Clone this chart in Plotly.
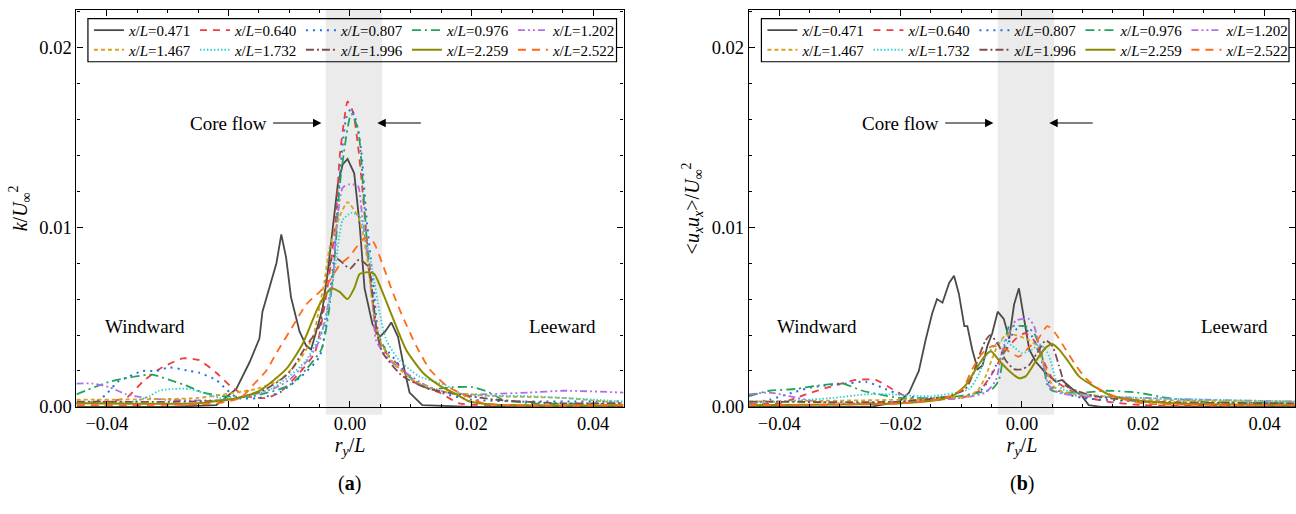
import plotly.graph_objects as go

# ---------------- data (panel a: k/U^2) ----------------
labels = ["0.471", "0.640", "0.807", "0.976", "1.202", "1.467", "1.732", "1.996", "2.259", "2.522"]

a_x_0471 = [-0.045, -0.030, -0.022, -0.0187, -0.0165, -0.0149, -0.0144, -0.013, -0.0121, -0.0113, -0.0105, -0.0097, -0.0083, -0.0072, -0.0064, -0.0053, -0.0045, -0.0037, -0.0028, -0.002, -0.0012, -0.0004, 0.0007, 0.0016, 0.0024, 0.0037, 0.0049, 0.0058, 0.0068, 0.0079, 0.0090, 0.0098, 0.0119, 0.020, 0.045]
a_y_0471 = [0.0, 0.0, 0.0001, 0.0010, 0.0025, 0.0038, 0.0053, 0.0069, 0.0080, 0.0096, 0.0083, 0.0061, 0.0042, 0.0034, 0.0032, 0.0045, 0.0055, 0.0074, 0.0101, 0.0124, 0.0135, 0.0138, 0.0130, 0.0101, 0.0066, 0.0046, 0.0039, 0.0042, 0.0047, 0.0039, 0.0020, 0.0008, 0.0001, 0.0, 0.0]

a_x_0640 = [-0.045, -0.040, -0.0368, -0.0341, -0.0314, -0.0275, -0.0248, -0.022, -0.0198, -0.0171, -0.0138, -0.0116, -0.0083, -0.0058, -0.0042, -0.0031, -0.0023, -0.0017, -0.0009, -0.0004, 0.0005, 0.0013, 0.002, 0.0027, 0.0035, 0.0043, 0.0054, 0.0081, 0.0109, 0.0147, 0.018, 0.025, 0.045]
a_y_0640 = [0.0002, 0.0003, 0.0005, 0.0014, 0.0021, 0.0027, 0.0026, 0.0019, 0.0012, 0.0006, 0.0005, 0.0008, 0.0019, 0.0030, 0.0056, 0.0081, 0.0106, 0.0139, 0.0161, 0.0170, 0.0164, 0.0146, 0.0123, 0.0095, 0.0070, 0.0041, 0.0032, 0.0023, 0.0013, 0.0008, 0.0002, 0.0001, 0.0001]

a_x_0807 = [-0.045, -0.0418, -0.0401, -0.0382, -0.0363, -0.0341, -0.0319, -0.0297, -0.0264, -0.0248, -0.022, -0.0204, -0.0185, -0.015, -0.0116, -0.008, -0.005, -0.0037, -0.0026, -0.0017, -0.0006, 0.0002, 0.001, 0.0018, 0.0027, 0.0038, 0.0049, 0.007, 0.0103, 0.015, 0.02, 0.045]
a_y_0807 = [0.0002, 0.0003, 0.0007, 0.0014, 0.0017, 0.0020, 0.0020, 0.0022, 0.0020, 0.0019, 0.0015, 0.0010, 0.0005, 0.0005, 0.0008, 0.0017, 0.0028, 0.0052, 0.0084, 0.0128, 0.0161, 0.0166, 0.0159, 0.0144, 0.0106, 0.0070, 0.0037, 0.0028, 0.0015, 0.0008, 0.0004, 0.0003]

a_x_0976 = [-0.045, -0.0396, -0.0352, -0.0325, -0.0297, -0.027, -0.0242, -0.0209, -0.016, -0.010, -0.0072, -0.0047, -0.0034, -0.0023, -0.0017, 0.0002, 0.0013, 0.0024, 0.0032, 0.0046, 0.007, 0.0109, 0.0131, 0.0169, 0.0202, 0.023, 0.0251, 0.030, 0.045]
a_y_0976 = [0.0007, 0.0014, 0.0017, 0.0018, 0.0015, 0.0012, 0.0008, 0.0006, 0.0006, 0.0012, 0.0021, 0.0032, 0.0055, 0.0092, 0.0123, 0.0163, 0.0155, 0.0110, 0.0074, 0.0041, 0.0025, 0.0014, 0.0010, 0.0011, 0.0011, 0.0008, 0.0004, 0.0002, 0.0002]

a_x_1202 = [-0.045, -0.0423, -0.0396, -0.0368, -0.0335, -0.0303, -0.020, -0.0127, -0.010, -0.0072, -0.005, -0.0039, -0.0028, -0.0023, -0.0012, 0.0, 0.0013, 0.002, 0.0029, 0.0038, 0.0043, 0.0065, 0.0092, 0.0125, 0.016, 0.0202, 0.0295, 0.035, 0.045]
a_y_1202 = [0.0013, 0.0013, 0.0011, 0.0007, 0.0005, 0.0004, 0.0004, 0.0010, 0.0015, 0.0025, 0.0037, 0.0052, 0.0070, 0.0097, 0.0122, 0.0124, 0.0123, 0.0106, 0.0083, 0.0055, 0.0037, 0.0026, 0.0019, 0.0012, 0.0008, 0.0007, 0.0008, 0.0009, 0.0008]

a_x_1467 = [-0.045, -0.025, -0.0171, -0.0154, -0.0116, -0.0083, -0.0061, -0.005, -0.0042, -0.0034, -0.0026, -0.0017, -0.0004, 0.0013, 0.0021, 0.0029, 0.0038, 0.0049, 0.007, 0.0103, 0.0147, 0.024, 0.035, 0.045]
a_y_1467 = [0.0004, 0.0005, 0.0009, 0.0010, 0.0015, 0.0026, 0.0039, 0.0056, 0.0070, 0.0088, 0.0097, 0.0106, 0.0114, 0.0106, 0.0097, 0.0081, 0.0055, 0.0037, 0.0025, 0.0015, 0.0009, 0.0006, 0.0005, 0.0002]

a_x_1732 = [-0.045, -0.0358, -0.033, -0.0314, -0.0292, -0.0264, -0.0243, -0.0215, -0.018, -0.013, -0.010, -0.0072, -0.0045, -0.0034, -0.0023, -0.0012, 0.0002, 0.0016, 0.0027, 0.0038, 0.0049, 0.006, 0.0081, 0.0114, 0.0158, 0.0186, 0.0295, 0.0405, 0.045]
a_y_1732 = [0.0002, 0.0003, 0.0006, 0.0009, 0.0010, 0.0010, 0.0008, 0.0005, 0.0005, 0.0010, 0.0017, 0.0026, 0.0043, 0.0059, 0.0081, 0.0104, 0.0108, 0.0106, 0.0092, 0.0074, 0.0052, 0.0037, 0.0026, 0.0017, 0.0012, 0.0007, 0.0006, 0.0004, 0.0003]

a_x_1996 = [-0.045, -0.020, -0.0138, -0.010, -0.0072, -0.005, -0.0039, -0.0028, -0.0015, 0.0, 0.0015, 0.003, 0.0038, 0.0045, 0.0054, 0.0087, 0.0131, 0.024, 0.035, 0.045]
a_y_1996 = [0.0003, 0.0004, 0.0010, 0.0019, 0.0034, 0.0045, 0.0070, 0.0084, 0.0081, 0.0077, 0.0082, 0.0078, 0.0060, 0.0040, 0.0030, 0.0017, 0.0010, 0.0004, 0.0002, 0.0002]

a_x_2259 = [-0.045, -0.025, -0.0204, -0.0182, -0.0149, -0.0105, -0.0078, -0.0053, -0.0039, -0.0031, -0.0017, -0.0004, 0.0007, 0.0016, 0.0029, 0.004, 0.0051, 0.007, 0.0092, 0.012, 0.0147, 0.0175, 0.0197, 0.025, 0.045]
a_y_2259 = [0.0002, 0.0002, 0.0004, 0.0005, 0.0009, 0.0021, 0.0035, 0.0055, 0.0063, 0.0066, 0.0064, 0.0060, 0.0066, 0.0074, 0.0075, 0.0074, 0.0066, 0.0050, 0.0032, 0.0019, 0.0012, 0.0007, 0.0003, 0.0001, 0.0001]

a_x_2522 = [-0.045, -0.022, -0.018, -0.016, -0.0138, -0.0121, -0.0094, -0.0072, -0.005, -0.0034, -0.0017, 0.0, 0.0013, 0.0024, 0.0038, 0.0054, 0.007, 0.0087, 0.0109, 0.0131, 0.0158, 0.0186, 0.022, 0.045]
a_y_2522 = [0.0001, 0.0002, 0.0005, 0.0012, 0.0020, 0.0030, 0.0045, 0.0057, 0.0064, 0.0070, 0.0079, 0.0084, 0.0090, 0.0094, 0.0092, 0.0079, 0.0064, 0.0050, 0.0034, 0.0021, 0.0012, 0.0007, 0.0002, 0.0001]

# ---------------- data (panel b: <uxux>/U^2) ----------------
b_x_0471 = [-0.045, -0.025, -0.0202, -0.0186, -0.017, -0.0159, -0.0148, -0.014, -0.0131, -0.012, -0.0112, -0.0104, -0.0095, -0.009, -0.0082, -0.0073, -0.0065, -0.0057, -0.0049, -0.004, -0.003, -0.0021, -0.0013, -0.0005, 0.0003, 0.0012, 0.0023, 0.0039, 0.0056, 0.0066, 0.0083, 0.0099, 0.011, 0.013, 0.045]
b_y_0471 = [0.0, 0.0, 0.0003, 0.0008, 0.0020, 0.0037, 0.0052, 0.0060, 0.0058, 0.0069, 0.0073, 0.0063, 0.0045, 0.0045, 0.0032, 0.0021, 0.0023, 0.0034, 0.0041, 0.0053, 0.0049, 0.0038, 0.0057, 0.0066, 0.0050, 0.0032, 0.0025, 0.0019, 0.0014, 0.0015, 0.0010, 0.0006, 0.0001, 0.0, 0.0]

b_x_0640 = [-0.045, -0.040, -0.0356, -0.0318, -0.0274, -0.0241, -0.0214, -0.018, -0.014, -0.010, -0.007, -0.005, -0.003, -0.001, 0.0005, 0.002, 0.0035, 0.005, 0.007, 0.010, 0.014, 0.020, 0.045]
b_y_0640 = [0.0002, 0.0002, 0.0007, 0.0011, 0.0015, 0.0015, 0.0010, 0.0004, 0.0004, 0.0005, 0.0009, 0.0018, 0.0030, 0.0038, 0.0041, 0.0037, 0.0026, 0.0016, 0.0011, 0.0006, 0.0003, 0.0001, 0.0001]

b_x_0807 = [-0.045, -0.0416, -0.0378, -0.0345, -0.029, -0.0257, -0.0225, -0.0202, -0.017, -0.012, -0.0085, -0.0065, -0.0043, -0.0027, -0.0013, 0.0, 0.0017, 0.0033, 0.0047, 0.0066, 0.010, 0.020, 0.045]
b_y_0807 = [0.0002, 0.0004, 0.0008, 0.0011, 0.0013, 0.0014, 0.0010, 0.0007, 0.0005, 0.0005, 0.0007, 0.0010, 0.0023, 0.0032, 0.0042, 0.0045, 0.0039, 0.0025, 0.0012, 0.0008, 0.0005, 0.0003, 0.0002]

b_x_0976 = [-0.045, -0.0416, -0.0373, -0.0334, -0.0296, -0.0263, -0.0235, -0.0202, -0.015, -0.0104, -0.007, -0.0049, -0.0038, -0.0021, -0.001, 0.0006, 0.002, 0.0031, 0.0042, 0.005, 0.0067, 0.010, 0.014, 0.019, 0.024, 0.030, 0.045]
b_y_0976 = [0.0006, 0.0009, 0.0010, 0.0012, 0.0013, 0.0009, 0.0007, 0.0005, 0.0005, 0.0006, 0.0008, 0.0010, 0.0015, 0.0045, 0.0045, 0.0045, 0.0041, 0.0032, 0.0012, 0.0009, 0.0008, 0.0008, 0.0009, 0.0008, 0.0005, 0.0003, 0.0002]

b_x_1202 = [-0.045, -0.0416, -0.0384, -0.034, -0.030, -0.020, -0.010, -0.006, -0.0043, -0.0032, -0.0021, -0.001, 0.0011, 0.002, 0.0028, 0.0036, 0.0044, 0.006, 0.010, 0.020, 0.030, 0.045]
b_y_1202 = [0.0007, 0.0008, 0.0006, 0.0003, 0.0002, 0.0003, 0.0005, 0.0008, 0.0015, 0.0032, 0.0041, 0.0048, 0.0049, 0.0045, 0.0034, 0.0023, 0.0012, 0.0008, 0.0006, 0.0005, 0.0004, 0.0003]

b_x_1467 = [-0.045, -0.020, -0.012, -0.0087, -0.0071, -0.006, -0.0043, -0.0027, -0.001, 0.0012, 0.0025, 0.0033, 0.0042, 0.005, 0.007, 0.010, 0.020, 0.045]
b_y_1467 = [0.0003, 0.0004, 0.0005, 0.0006, 0.0010, 0.0017, 0.0032, 0.0040, 0.0040, 0.0037, 0.0034, 0.0026, 0.0019, 0.0012, 0.0008, 0.0007, 0.0004, 0.0003]

b_x_1732 = [-0.045, -0.0312, -0.0257, -0.0218, -0.015, -0.0087, -0.007, -0.006, -0.0043, -0.0032, -0.0016, 0.0, 0.0017, 0.0028, 0.0039, 0.0047, 0.0056, 0.0066, 0.010, 0.020, 0.045]
b_y_1732 = [0.0002, 0.0005, 0.0007, 0.0007, 0.0006, 0.0010, 0.0019, 0.0028, 0.0035, 0.0037, 0.0034, 0.0030, 0.0032, 0.0035, 0.0032, 0.0026, 0.0015, 0.0010, 0.0007, 0.0005, 0.0003]

b_x_1996 = [-0.045, -0.020, -0.012, -0.0093, -0.0082, -0.0071, -0.006, -0.0052, -0.0038, -0.0027, -0.0013, 0.0, 0.0011, 0.0025, 0.0039, 0.005, 0.0061, 0.0072, 0.009, 0.012, 0.020, 0.045]
b_y_1996 = [0.0003, 0.0003, 0.0006, 0.0010, 0.0017, 0.0028, 0.0037, 0.0040, 0.0034, 0.0026, 0.0021, 0.0021, 0.0023, 0.0030, 0.0037, 0.0034, 0.0023, 0.0012, 0.0009, 0.0006, 0.0003, 0.0002]

b_x_2259 = [-0.045, -0.020, -0.0137, -0.0115, -0.0093, -0.0076, -0.0062, -0.0051, -0.0038, -0.0021, -0.0005, 0.0006, 0.0022, 0.0039, 0.005, 0.0061, 0.0077, 0.0094, 0.0116, 0.0149, 0.0182, 0.025, 0.045]
b_y_2259 = [0.0001, 0.0002, 0.0004, 0.0006, 0.0012, 0.0021, 0.0028, 0.0031, 0.0026, 0.0020, 0.0016, 0.0017, 0.0025, 0.0033, 0.0035, 0.0032, 0.0025, 0.0017, 0.0012, 0.0006, 0.0004, 0.0002, 0.0001]

b_x_2522 = [-0.045, -0.020, -0.0126, -0.0098, -0.0082, -0.0065, -0.0048, -0.0027, -0.0005, 0.0011, 0.0025, 0.0042, 0.0055, 0.0072, 0.0089, 0.0105, 0.0127, 0.016, 0.020, 0.045]
b_y_2522 = [0.0001, 0.0002, 0.0005, 0.0010, 0.0021, 0.0030, 0.0034, 0.0032, 0.0028, 0.0033, 0.0037, 0.0045, 0.0041, 0.0032, 0.0023, 0.0016, 0.0010, 0.0005, 0.0002, 0.0001]

core_band = [-0.004, 0.0053]
core_arrow_y = 0.0158
arrow_left = [-0.0129, -0.0047]   # tail, head
arrow_right = [0.0119, 0.0045]

panel_a = [(a_x_0471, a_y_0471), (a_x_0640, a_y_0640), (a_x_0807, a_y_0807), (a_x_0976, a_y_0976),
           (a_x_1202, a_y_1202), (a_x_1467, a_y_1467), (a_x_1732, a_y_1732), (a_x_1996, a_y_1996),
           (a_x_2259, a_y_2259), (a_x_2522, a_y_2522)]
panel_b = [(b_x_0471, b_y_0471), (b_x_0640, b_y_0640), (b_x_0807, b_y_0807), (b_x_0976, b_y_0976),
           (b_x_1202, b_y_1202), (b_x_1467, b_y_1467), (b_x_1732, b_y_1732), (b_x_1996, b_y_1996),
           (b_x_2259, b_y_2259), (b_x_2522, b_y_2522)]

# ---------------- styles ----------------
colors = ["#4a4a4a", "#f23c3c", "#1e6fe6", "#22a35a", "#b26ee8",
          "#d9a21b", "#2ed0d0", "#7d4c4c", "#8c8c00", "#ff6a14"]
dashes = ["solid", "7px,6px", "2px,5px", "9px,4px,2px,4px", "7px,3px,2px,3px,2px,3px",
          "4px,3px", "1.5px,2px", "8px,3px,2px,3px", "solid", "8px,6px"]
widths = [1.8, 1.8, 2.0, 1.8, 1.8, 1.8, 1.8, 1.8, 2.0, 1.8]
shapes_line = ["linear"] + ["spline"] * 9

FONT = "Liberation Serif"
W, H = 1296, 514

fig = go.Figure()

def add_panel(data, xa, ya, leg1, leg2):
    for i, (xs, ys) in enumerate(data):
        fig.add_trace(go.Scatter(
            x=xs, y=ys, mode="lines", xaxis=xa, yaxis=ya,
            name="<i>x</i>/<i>L</i>=" + labels[i],
            legend=leg1 if i < 5 else leg2,
            line=dict(color=colors[i], dash=dashes[i], width=widths[i],
                      shape=shapes_line[i], smoothing=0.6),
            showlegend=True))

add_panel(panel_a, "x", "y", "legend", "legend2")
add_panel(panel_b, "x2", "y2", "legend3", "legend4")

def px2paper_x(p):
    return p / W

def px2paper_y(p):
    return (H - p) / H

dom_y = [px2paper_y(415), px2paper_y(10)]
dom_xa = [px2paper_x(76.5), px2paper_x(624)]
dom_xb = [px2paper_x(749.5), 1.0]

axis_common = dict(
    showline=True, linecolor="black", linewidth=1.2, mirror="ticks",
    ticks="inside", ticklen=6, tickwidth=1.2, tickcolor="black",
    showgrid=False, zeroline=False,
    tickfont=dict(family=FONT, size=18.5, color="black"),
    tickformat=".2f",
)
xaxis_common = dict(axis_common, range=[-0.045, 0.045], tick0=-0.04, dtick=0.02,
                    minor=dict(dtick=0.005, tick0=0, ticks="inside", ticklen=3, tickwidth=1.0, tickcolor="black"),
                    title=dict(text="<i>r</i><sub><i>y</i></sub>/<i>L</i>",
                               font=dict(family=FONT, size=20, color="black"), standoff=2))
yaxis_common = dict(axis_common, range=[0, 0.0221], tick0=0, dtick=0.01,
                    minor=dict(dtick=0.002, tick0=0, ticks="inside", ticklen=3, tickwidth=1.0, tickcolor="black"))

leg_common = dict(orientation="h", bgcolor="rgba(0,0,0,0)", borderwidth=0,
                  font=dict(family=FONT, size=15, color="black"),
                  entrywidth=61, entrywidthmode="pixels",
                  xanchor="left", yanchor="middle", itemwidth=30, tracegroupgap=0,
                  itemclick=False, itemdoubleclick=False)

fig.update_layout(
    width=W, height=H,
    margin=dict(l=0, r=0, t=0, b=0),
    paper_bgcolor="white", plot_bgcolor="white",
    font=dict(family=FONT, size=18, color="black"),
    xaxis=dict(xaxis_common, domain=dom_xa, anchor="y"),
    yaxis=dict(yaxis_common, domain=dom_y, anchor="x",
               title=dict(text="<i>k</i>/<i>U</i><sub>∞</sub><sup>2</sup>",
                          font=dict(family=FONT, size=20, color="black"), standoff=6)),
    xaxis2=dict(xaxis_common, domain=dom_xb, anchor="y2"),
    yaxis2=dict(yaxis_common, domain=dom_y, anchor="x2",
                title=dict(text="&lt;<i>u<sub>x</sub>u<sub>x</sub></i>&gt;/<i>U</i><sub>∞</sub><sup>2</sup>",
                           font=dict(family=FONT, size=20, color="black"), standoff=6)),
    legend=dict(leg_common, x=px2paper_x(89), y=px2paper_y(31)),
    legend2=dict(leg_common, x=px2paper_x(89), y=px2paper_y(51)),
    legend3=dict(leg_common, x=px2paper_x(763), y=px2paper_y(31)),
    legend4=dict(leg_common, x=px2paper_x(763), y=px2paper_y(51)),
    showlegend=True,
)

shapes = []
annotations = []
for xa, ya, box in [("x", "y", (88, 617)), ("x2", "y2", (762, 1290))]:
    # core-flow band
    shapes.append(dict(type="rect", xref=xa, yref="paper", x0=core_band[0], x1=core_band[1],
                       y0=px2paper_y(423), y1=px2paper_y(10), fillcolor="#ebebeb",
                       line=dict(width=0), layer="below"))
    # legend box
    shapes.append(dict(type="rect", xref="paper", yref="paper",
                       x0=px2paper_x(box[0]), x1=px2paper_x(box[1]),
                       y0=px2paper_y(63), y1=px2paper_y(19),
                       line=dict(color="black", width=1.2), fillcolor="rgba(0,0,0,0)", layer="above"))
    # arrows
    for tail, head in (arrow_left, arrow_right):
        annotations.append(dict(xref=xa, yref=ya, x=head, y=core_arrow_y, axref=xa, ayref=ya,
                                ax=tail, ay=core_arrow_y, text="", showarrow=True,
                                arrowhead=2, arrowsize=1.4, arrowwidth=1.2, arrowcolor="black"))
    annotations.append(dict(xref=xa, yref=ya, x=-0.0134, y=core_arrow_y, text="Core flow",
                            showarrow=False, xanchor="right", yanchor="middle",
                            font=dict(family=FONT, size=19, color="black")))
    annotations.append(dict(xref=xa, yref=ya, x=-0.0337, y=0.0045, text="Windward",
                            showarrow=False, xanchor="center", yanchor="middle",
                            font=dict(family=FONT, size=19, color="black")))
    annotations.append(dict(xref=xa, yref=ya, x=0.0350, y=0.0045, text="Leeward",
                            showarrow=False, xanchor="center", yanchor="middle",
                            font=dict(family=FONT, size=19, color="black")))

annotations.append(dict(xref="x", yref="paper", x=0.0, y=px2paper_y(493), text="(<b>a</b>)",
                        showarrow=False, yanchor="middle",
                        font=dict(family=FONT, size=20, color="black")))
annotations.append(dict(xref="x2", yref="paper", x=0.0, y=px2paper_y(493), text="(<b>b</b>)",
                        showarrow=False, yanchor="middle",
                        font=dict(family=FONT, size=20, color="black")))

fig.update_layout(shapes=shapes, annotations=annotations)

fig.write_html("out.html")
